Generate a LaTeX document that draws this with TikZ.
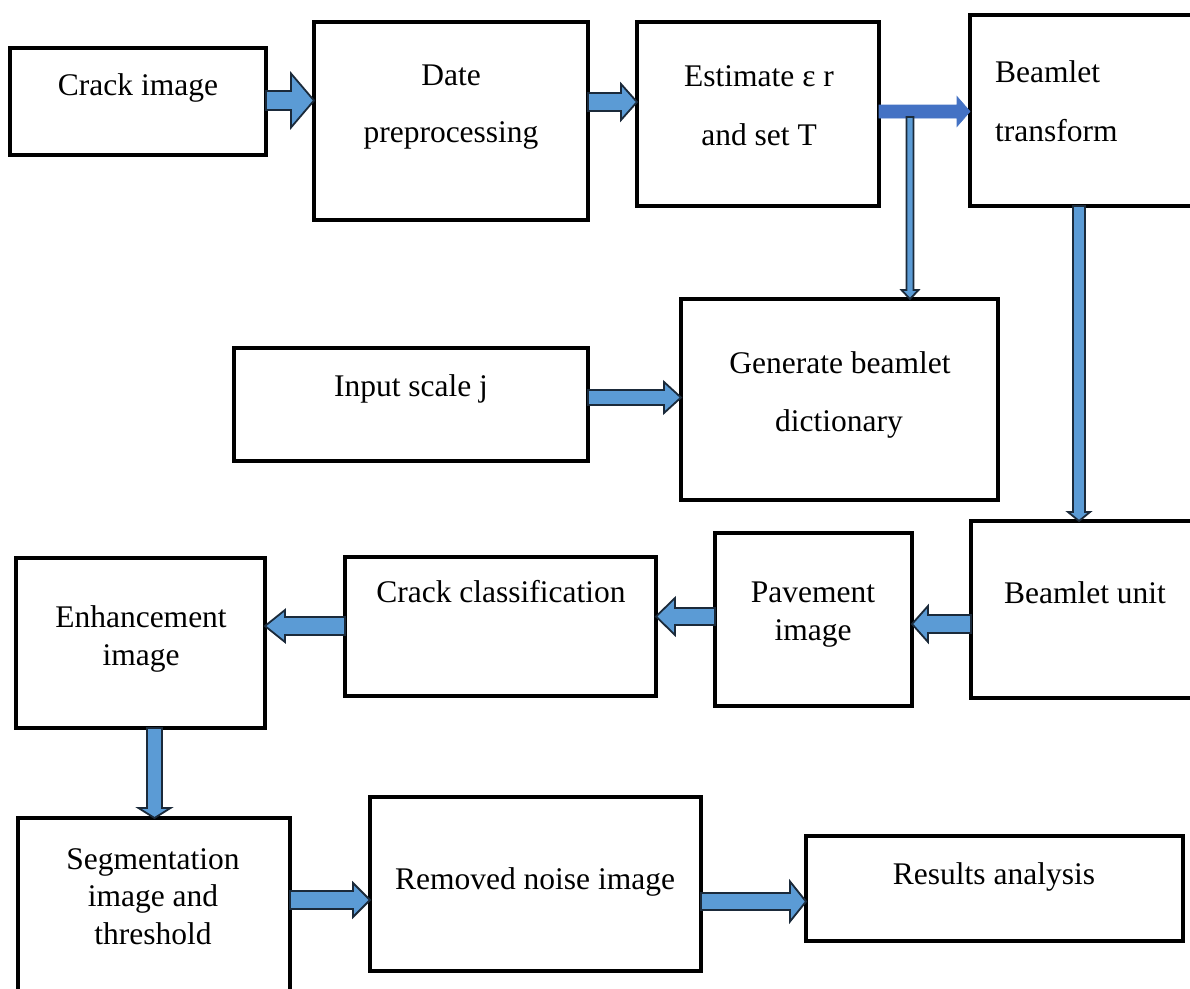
\documentclass[tikz,border=0pt]{standalone}
\usepackage{fontspec}
\setmainfont{Liberation Serif}
\usetikzlibrary{calc}
\definecolor{afill}{HTML}{5B9BD5}
\definecolor{aline}{HTML}{1B2A3A}
\definecolor{ablue}{HTML}{4472C4}
\tikzset{
 box/.style={draw=black, line width=4.5pt, fill=white, inner sep=0pt, outer sep=0pt},
 lbl/.style={anchor=base, inner sep=0pt, font=\fontsize{31.5}{38}\selectfont},
 barrow/.style={fill=afill, draw=aline, line width=1.8pt, line join=miter},
}
% horizontal block arrow: start, end, shaft half, head half, head length
\newcommand\harrow[6][]{\draw[barrow,#1] let \p1=(#2), \p2=(#3), \n2={ifthenelse(\x2>\x1,\x2-#6,\x2+#6)} in
 (\x1,\y1+#4) -- (\n2,\y1+#4) -- (\n2,\y1+#5) -- (\x2,\y1) -- (\n2,\y1-#5) -- (\n2,\y1-#4) -- (\x1,\y1-#4) -- cycle;}
% vertical block arrow
\newcommand\varrow[6][]{\draw[barrow,#1] let \p1=(#2), \p2=(#3), \n2={ifthenelse(\y2>\y1,\y2-#6,\y2+#6)} in
 (\x1+#4,\y1) -- (\x1+#4,\n2) -- (\x1+#5,\n2) -- (\x1,\y2) -- (\x1-#5,\n2) -- (\x1-#4,\n2) -- (\x1-#4,\y1) -- cycle;}
\begin{document}
\begin{tikzpicture}[x=1pt,y=-1pt]
\useasboundingbox (0,0) rectangle (1190,988);
\clip (0,0) rectangle (1190,988);
\fill[white] (0,0) rectangle (1190,988);
% boxes
\node[box, minimum width=256pt, minimum height=107pt] (crack) at (138,101.5) {};
\node[box, minimum width=274pt, minimum height=198pt] (date) at (451,121) {};
\node[box, minimum width=242pt, minimum height=184pt] (est) at (758,114) {};
\node[box, minimum width=230pt, minimum height=191pt] (bt) at (1085,110.5) {};
\node[box, minimum width=354pt, minimum height=113pt] (inp) at (411,404.5) {};
\node[box, minimum width=317pt, minimum height=201pt] (gen) at (839.5,399.5) {};
\node[box, minimum width=229pt, minimum height=177pt] (bu) at (1085.5,609.5) {};
\node[box, minimum width=197pt, minimum height=173pt] (pav) at (813.5,619.5) {};
\node[box, minimum width=311pt, minimum height=139pt] (cc) at (500.5,626.5) {};
\node[box, minimum width=249pt, minimum height=170pt] (enh) at (140.5,643) {};
\node[box, minimum width=272pt, minimum height=182pt] (seg) at (154,909) {};
\node[box, minimum width=331pt, minimum height=174pt] (rem) at (535.5,884) {};
\node[box, minimum width=377pt, minimum height=105pt] (res) at (994.5,888.5) {};
% labels
\node[lbl] (t1) at (138,95) {Crack image};
\node[lbl] (t2a) at (451,85) {Date};
\node[lbl] (t2b) at (451,142) {preprocessing};
\node[lbl] (t3a) at (759,86) {Estimate ε r};
\node[lbl] (t3b) at (759,145) {and set T};
\node[lbl, anchor=base west] (t4a) at (995,82) {Beamlet};
\node[lbl, anchor=base west] (t4b) at (995,141) {transform};
\node[lbl] (t5) at (411,396) {Input scale j};
\node[lbl] (t6a) at (840,373) {Generate beamlet};
\node[lbl] (t6b) at (839,431) {dictionary};
\node[lbl] (t7) at (1085,603) {Beamlet unit};
\node[lbl] (t8a) at (813,602) {Pavement};
\node[lbl] (t8b) at (813,640) {image};
\node[lbl] (t9) at (501,602) {Crack classification};
\node[lbl] (t10a) at (141,627) {Enhancement};
\node[lbl] (t10b) at (141,665) {image};
\node[lbl] (t11a) at (153,869) {Segmentation};
\node[lbl] (t11b) at (153,906) {image and};
\node[lbl] (t11c) at (153,944) {threshold};
\node[lbl] (t12) at (535,889) {Removed noise image};
\node[lbl] (t13) at (994,884) {Results analysis};
% arrows
\harrow{crack.east |- 0,100.5}{date.west}{9.5pt}{27pt}{23pt}
\harrow{date.east |- 0,102}{est.west}{9pt}{18pt}{16pt}
\harrow[fill=ablue, draw=ablue, line width=0.6pt]{est.east |- 0,111.5}{bt.west}{6.5pt}{15pt}{13pt}
\coordinate (branch) at (910,117);
\varrow{branch}{gen.north}{3.5pt}{8.5pt}{9pt}
\varrow{bt.south -| 1079,0}{bu.north}{6pt}{11pt}{9pt}
\harrow{inp.east |- 0,397.5}{gen.west}{7.5pt}{15.5pt}{17pt}
\harrow{bu.west |- 0,624}{pav.east}{9pt}{18pt}{16pt}
\harrow{pav.west |- 0,616.5}{cc.east}{8.5pt}{18.5pt}{19pt}
\harrow{cc.west |- 0,626}{enh.east}{9pt}{16pt}{20pt}
\varrow{enh.south -| 154.5,0}{seg.north}{7.5pt}{16pt}{10pt}
\harrow{seg.east |- 0,900}{rem.west}{9pt}{17pt}{17pt}
\harrow{rem.east |- 0,901.5}{res.west}{8.5pt}{20pt}{16pt}
\end{tikzpicture}
\end{document}
